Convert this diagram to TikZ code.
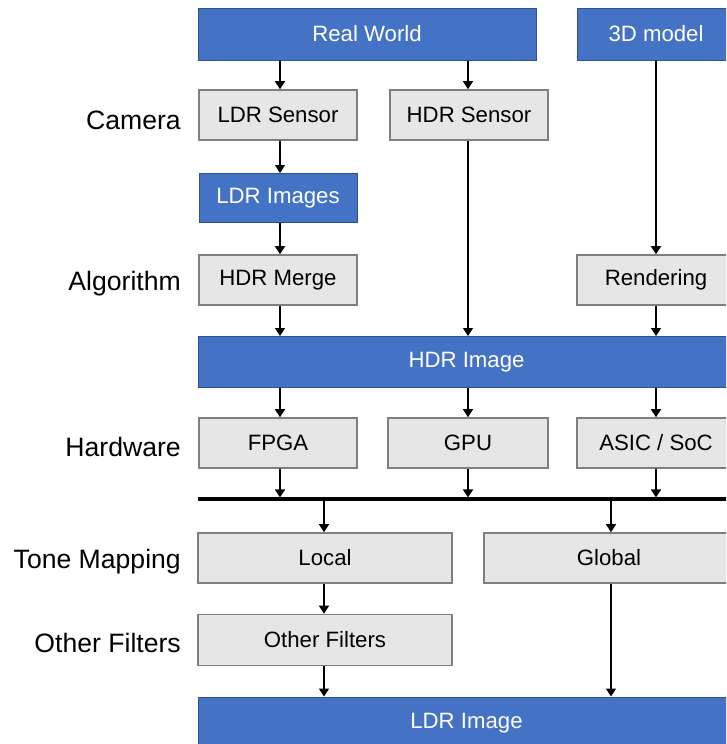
\documentclass[tikz,border=0pt]{standalone}
\usepackage{fontspec}
\setmainfont{Liberation Sans}
\usetikzlibrary{arrows.meta}
\definecolor{bfill}{HTML}{4472C4}
\definecolor{bdraw}{HTML}{2F528F}
\definecolor{gfill}{HTML}{E7E6E6}
\definecolor{gdraw}{HTML}{7F7F7F}
\tikzset{
  bluebox/.style={draw=bdraw, fill=bfill, line width=1pt, text=white, inner sep=0pt, font=\fontsize{22.2}{26}\selectfont},
  greybox/.style={draw=gdraw, fill=gfill, line width=1.6pt, text=black, inner sep=0pt, font=\fontsize{22.2}{26}\selectfont},
  arr/.style={line width=1.6pt, -{Triangle[width=10pt,length=8pt]}},
  lab/.style={anchor=east, inner sep=0pt, font=\fontsize{26.6}{31}\selectfont},
}
\begin{document}
\begin{tikzpicture}[x=1pt,y=-1pt]
\useasboundingbox (0,0) rectangle (726,744);
\clip (0,0) rectangle (726,744);
% boxes
\node[bluebox, minimum width=338pt, minimum height=52pt] (rw) at (367,34) {Real World};
\node[bluebox, minimum width=158pt, minimum height=52pt] (dm) at (656,34) {3D model};
\node[greybox, minimum width=158pt, minimum height=50pt] (ldrs) at (278,115) {LDR Sensor};
\node[greybox, minimum width=158pt, minimum height=50pt] (hdrs) at (469,115) {HDR Sensor};
\node[bluebox, minimum width=158pt, minimum height=49pt] (ldri) at (278,198) {LDR Images};
\node[greybox, minimum width=158pt, minimum height=50pt] (merge) at (278,280) {HDR Merge};
\node[greybox, minimum width=158pt, minimum height=50pt] (rend) at (656,280) {Rendering};
\node[bluebox, minimum width=537pt, minimum height=51pt] (hdri) at (466.5,362) {HDR Image};
\node[greybox, minimum width=158pt, minimum height=50pt] (fpga) at (278,443) {FPGA};
\node[greybox, minimum width=160pt, minimum height=50pt] (gpu) at (468,443) {GPU};
\node[greybox, minimum width=158pt, minimum height=50pt] (asic) at (656,443) {ASIC / SoC};
\node[greybox, minimum width=254pt, minimum height=50pt] (local) at (325,558) {Local};
\node[greybox, minimum width=250pt, minimum height=50pt] (global) at (609,558) {Global};
\node[greybox, minimum width=254pt, minimum height=51pt] (of) at (325,640) {Other Filters};
\node[bluebox, minimum width=537pt, minimum height=52pt] (ldr) at (466.5,723) {LDR Image};
% left labels
\node[lab] (l1) at (181,120) {Camera};
\node[lab] (l2) at (181,284) {Algorithm};
\node[lab] (l3) at (181,447) {Hardware};
\node[lab] (l4) at (181,562) {Tone Mapping};
\node[lab] (l5) at (181,643) {Other Filters};
% bus
\coordinate (busL) at (198,499);
\coordinate (busR) at (740,499);
\draw[line width=3.2pt] (busL) -- (busR);
\coordinate (bus) at (0,497.4);
\coordinate (busb) at (0,500.6);
% columns
\coordinate (c1) at (280,0);
\coordinate (c2) at (468,0);
\coordinate (c3) at (656,0);
\coordinate (c4) at (324,0);
\coordinate (c5) at (611,0);
% arrows
\draw[arr] (rw.south -| c1) -- (ldrs.north -| c1);
\draw[arr] (rw.south -| c2) -- (hdrs.north -| c2);
\draw[arr] (dm.south -| c3) -- (rend.north -| c3);
\draw[arr] (ldrs.south -| c1) -- (ldri.north -| c1);
\draw[arr] (ldri.south -| c1) -- (merge.north -| c1);
\draw[arr] (merge.south -| c1) -- (hdri.north -| c1);
\draw[arr] (hdrs.south -| c2) -- (hdri.north -| c2);
\draw[arr] (rend.south -| c3) -- (hdri.north -| c3);
\draw[arr] (hdri.south -| c1) -- (fpga.north -| c1);
\draw[arr] (hdri.south -| c2) -- (gpu.north -| c2);
\draw[arr] (hdri.south -| c3) -- (asic.north -| c3);
\draw[arr] (fpga.south -| c1) -- (bus -| c1);
\draw[arr] (gpu.south -| c2) -- (bus -| c2);
\draw[arr] (asic.south -| c3) -- (bus -| c3);
\draw[arr] (busb -| c4) -- (local.north -| c4);
\draw[arr] (busb -| c5) -- (global.north -| c5);
\draw[arr] (local.south -| c4) -- (of.north -| c4);
\draw[arr] (of.south -| c4) -- (ldr.north -| c4);
\draw[arr] (global.south -| c5) -- (ldr.north -| c5);
\end{tikzpicture}
\end{document}
